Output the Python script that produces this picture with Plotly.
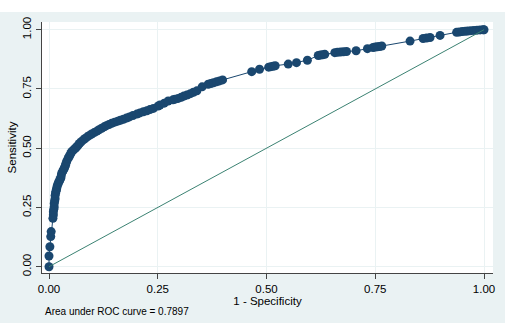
import plotly.graph_objects as go

# ROC curve points (1 - specificity, sensitivity)
fpr = [0.000, 0.000, 0.002, 0.004, 0.005,
       0.009, 0.010, 0.010, 0.011, 0.012, 0.012, 0.013, 0.014, 0.014, 0.015,
       0.016, 0.017, 0.018, 0.019, 0.021, 0.022, 0.024, 0.025, 0.027, 0.028,
       0.029, 0.031, 0.033, 0.035, 0.036, 0.038, 0.039, 0.041, 0.044, 0.046,
       0.048, 0.050, 0.052, 0.055, 0.058, 0.061, 0.064, 0.067, 0.070, 0.074,
       0.079, 0.083, 0.088, 0.093, 0.098, 0.104, 0.110, 0.115, 0.121, 0.127,
       0.132, 0.138, 0.144, 0.151, 0.158, 0.164, 0.171, 0.178, 0.185, 0.193,
       0.202, 0.209, 0.217, 0.225, 0.232, 0.240, 0.251, 0.255, 0.265, 0.274,
       0.285, 0.290, 0.297, 0.304, 0.310, 0.317, 0.325, 0.332, 0.340, 0.352,
       0.366, 0.372, 0.378, 0.385, 0.392, 0.399, 0.466, 0.484, 0.505, 0.510,
       0.515, 0.520, 0.550, 0.569, 0.594, 0.619, 0.624, 0.629, 0.634, 0.657,
       0.663, 0.670, 0.677, 0.684, 0.706, 0.732, 0.745, 0.750, 0.755, 0.760,
       0.765, 0.830, 0.860, 0.868, 0.876, 0.899, 0.937, 0.943, 0.950, 0.957,
       0.963, 0.970, 0.977, 0.984, 0.991, 0.998, 1.000]
tpr = [0.000, 0.045, 0.084, 0.127, 0.148,
       0.204, 0.218, 0.232, 0.242, 0.252, 0.267, 0.277, 0.287, 0.300, 0.310,
       0.318, 0.325, 0.332, 0.342, 0.350, 0.356, 0.362, 0.368, 0.373, 0.383,
       0.394, 0.401, 0.408, 0.414, 0.420, 0.428, 0.436, 0.446, 0.457, 0.464,
       0.470, 0.478, 0.485, 0.490, 0.496, 0.501, 0.506, 0.513, 0.520, 0.527,
       0.535, 0.541, 0.548, 0.554, 0.560, 0.566, 0.572, 0.578, 0.584, 0.590,
       0.595, 0.600, 0.605, 0.610, 0.614, 0.618, 0.622, 0.627, 0.632, 0.638,
       0.644, 0.649, 0.654, 0.658, 0.663, 0.668, 0.678, 0.682, 0.690, 0.699,
       0.704, 0.707, 0.710, 0.715, 0.720, 0.724, 0.730, 0.736, 0.742, 0.759,
       0.770, 0.773, 0.776, 0.780, 0.784, 0.788, 0.823, 0.833, 0.842, 0.844,
       0.846, 0.848, 0.855, 0.861, 0.871, 0.891, 0.893, 0.894, 0.896, 0.903,
       0.905, 0.906, 0.907, 0.908, 0.911, 0.920, 0.925, 0.927, 0.928, 0.929,
       0.931, 0.952, 0.963, 0.965, 0.967, 0.976, 0.989, 0.990, 0.992, 0.993,
       0.994, 0.996, 0.997, 0.998, 0.999, 1.000, 1.000]

ref_x = [0, 1]
ref_y = [0, 1]

tick_vals = [0, 0.25, 0.5, 0.75, 1.0]
tick_text = ["0.00", "0.25", "0.50", "0.75", "1.00"]
auc_text = "Area under ROC curve = 0.7897"

NAVY = "#1A476F"
TEAL = "#3B8272"
BG = "#EAF2F3"
FONT = "Liberation Sans, Arial, sans-serif"

fig = go.Figure()
fig.add_trace(go.Scatter(
    x=fpr, y=tpr, mode="lines+markers",
    line=dict(color=NAVY, width=1),
    marker=dict(color=NAVY, size=9, line=dict(width=0)),
    showlegend=False, hoverinfo="skip"))
fig.add_trace(go.Scatter(
    x=ref_x, y=ref_y, mode="lines",
    line=dict(color=TEAL, width=1),
    showlegend=False, hoverinfo="skip"))

W, H = 513, 323
L, R, T, B = 42, 20, 22, 50
pw, ph = W - L - R, H - T - B

def px_to_paper_x(px):
    return (px - L) / pw

def px_to_paper_y(py):
    return (H - B - py) / ph

fig.update_layout(
    width=W, height=H,
    margin=dict(l=L, r=R, t=T, b=B, pad=0),
    paper_bgcolor=BG, plot_bgcolor="white",
    font=dict(family=FONT, size=11, color="black"),
    xaxis=dict(
        range=[-0.0161, 1.0207], tickvals=tick_vals, ticktext=tick_text,
        showgrid=True, gridcolor=BG, gridwidth=1, zeroline=False,
        showline=True, linecolor="#444444", linewidth=1,
        ticks="outside", ticklen=5, tickcolor="#444444",
        tickfont=dict(size=11.5),
        title=dict(text="1 - Specificity", font=dict(size=11.5), standoff=0)),
    yaxis=dict(
        range=[-0.0266, 1.0325], tickvals=tick_vals, ticktext=tick_text,
        showgrid=True, gridcolor=BG, gridwidth=1, zeroline=False,
        showline=True, linecolor="#444444", linewidth=1,
        ticks="outside", ticklen=5, tickcolor="#444444",
        tickangle=-90, tickfont=dict(size=11.5),
        title=dict(text="Sensitivity", font=dict(size=11.5), standoff=2)),
    shapes=[
        dict(type="rect", xref="paper", yref="paper",
             x0=-1, x1=2, y0=px_to_paper_y(12), y1=2,
             fillcolor="white", line=dict(width=0), layer="below"),
        dict(type="rect", xref="paper", yref="paper",
             x0=px_to_paper_x(505), x1=2, y0=-1, y1=2,
             fillcolor="white", line=dict(width=0), layer="below"),
    ],
    annotations=[
        dict(text=auc_text, xref="paper", yref="paper",
             x=px_to_paper_x(43), y=px_to_paper_y(311),
             xanchor="left", yanchor="middle", showarrow=False,
             font=dict(size=10, color="black")),
    ],
)

fig.write_html("out.html")
